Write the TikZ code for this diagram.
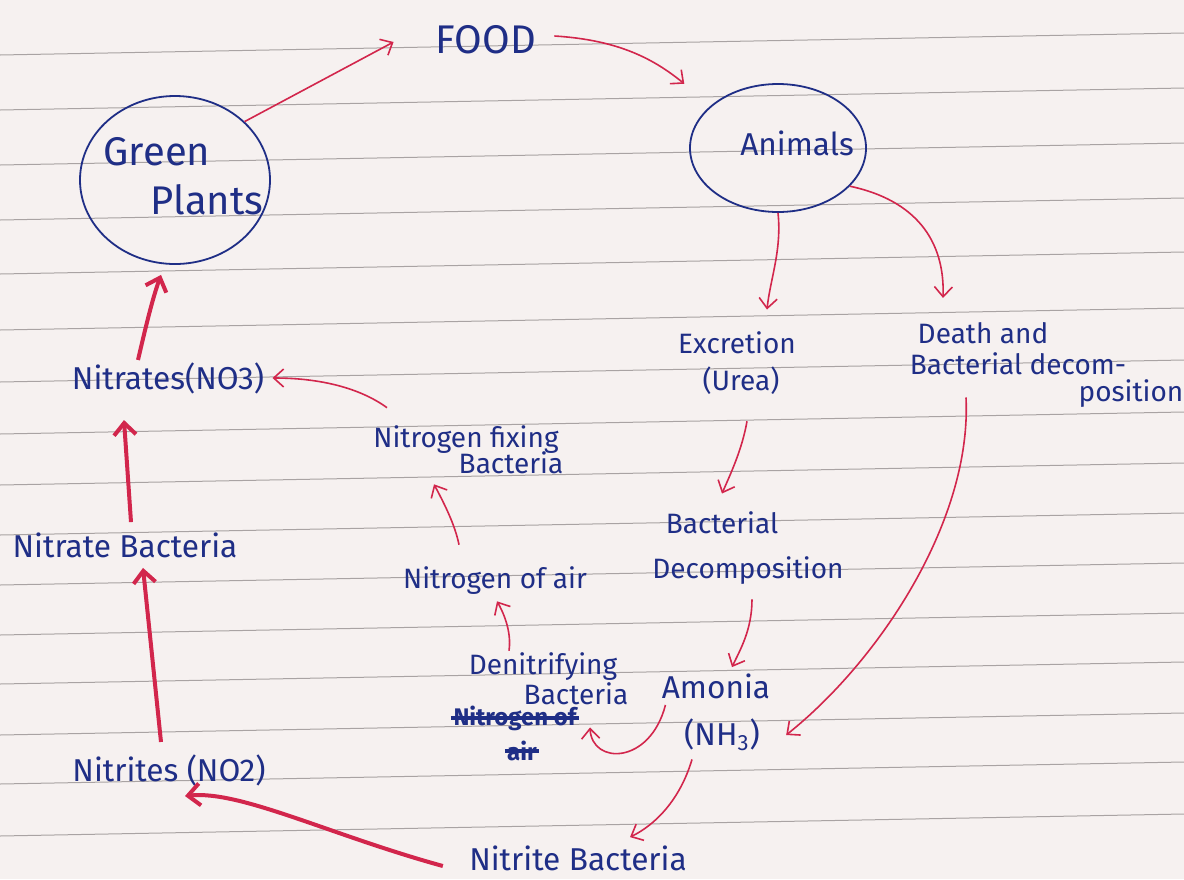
\documentclass[tikz,border=0pt]{standalone}
\usepackage{fontspec}
\setmainfont{Fira Sans}
\usetikzlibrary{arrows.meta,shapes.geometric,calc}
\definecolor{ink}{HTML}{1F2E86}
\definecolor{rink}{HTML}{D2264C}
\definecolor{paper}{HTML}{F6F1F0}
\definecolor{ruled}{HTML}{A9A3A3}
\begin{document}
\begin{tikzpicture}[x=0.5pt,y=-0.5pt,
  txt/.style={text=ink, inner sep=1pt, font=\fontsize{14}{17}\selectfont},
  ltxt/.style={text=ink, inner sep=1pt, font=\fontsize{15.8}{19}\selectfont},
  bigtxt/.style={text=ink, inner sep=1pt, font=\fontsize{20}{24}\selectfont},
  smalltxt/.style={text=ink, inner sep=1pt, font=\fontsize{12}{14}\selectfont\bfseries},
  blob/.style={draw=ink, line width=0.9pt, ellipse, inner sep=0pt},
  arr/.style={draw=rink, line width=0.8pt, -{Straight Barb[length=5pt,width=9pt]}},
  barr/.style={draw=rink, line width=2pt, -{Straight Barb[length=6pt,width=11pt]}},
  ruleline/.style={draw=ruled, line width=0.5pt},
  scratch/.style={draw=ink, line width=1.6pt}
]
\useasboundingbox (0,0) rectangle (1184,879);
\fill[paper] (0,0) rectangle (1184,879);
\foreach \l in {55,110,165,220,274,330,382,434,485,535,585,635,684,735,784,836}
  \draw[ruleline] (0,\l) -- (1184,\l-22);

% nodes
\node[bigtxt] (food) at (486,40) {FOOD};
\node[blob, minimum width=95pt, minimum height=84pt] (gp) at (175,180) {};
\node[bigtxt] (gpt1) at (157,152) {Green};
\node[bigtxt] (gpt2) at (207,200) {Plants};
\node[blob, minimum width=88pt, minimum height=64pt] (an) at (778,148) {};
\node[ltxt] (ant) at (797,143) {Animals};
\node[txt] (exc1) at (737,343) {Excretion};
\node[txt] (exc) at (741,381) {(Urea)};
\node[txt] (death1) at (983,333) {Death and};
\node[txt] (death2) at (1018,364) {Bacterial decom-};
\node[txt] (death3) at (1131,394) {position};
\node[txt] (bd1) at (722,523) {Bacterial};
\node[txt] (bd2) at (748,571) {Decomposition};
\node[ltxt] (am1) at (716,686) {Amonia};
\node[ltxt] (am2) at (722,735) {(NH\textsubscript{3})};
\node[txt] (den1) at (543,667) {Denitrifying};
\node[txt] (den2) at (576,694) {Bacteria};
\node[smalltxt] (strk1) at (515,718) {Nitrogen of};
\node[smalltxt] (strk2) at (522,751) {air};
\draw[scratch] (strk1.west) -- (strk1.east);
\draw[scratch] (strk2.west) -- (strk2.east);
\node[txt] (noa) at (495,581) {Nitrogen of air};
\node[txt] (nfb1) at (466,440) {Nitrogen fixing};
\node[txt] (nfb2) at (511,463) {Bacteria};
\node[ltxt] (no3) at (168,378) {Nitrates(NO3)};
\node[ltxt] (nb) at (125,545) {Nitrate Bacteria};
\node[ltxt] (no2) at (169,770) {Nitrites (NO2)};
\node[ltxt] (nib) at (578,858) {Nitrite Bacteria};

% connectors
\draw[arr] (gp.40) -- ([xshift=-20pt,yshift=-1pt]food.west);
\draw[arr] ([xshift=8pt,yshift=2pt]food.east) .. controls (620,40) and (655,60) .. ([xshift=-12pt,yshift=12pt]an.150);
\draw[arr] (an.south) .. controls (782,250) and (770,280) .. ([xshift=15pt,yshift=10pt]exc1.north);
\draw[arr] (an.-28) .. controls (915,200) and (945,240) .. ([xshift=-20pt,yshift=11pt]death1.north);
\draw[arr] ([xshift=3pt,yshift=-12pt]exc.south) .. controls (742,450) and (730,475) .. ([yshift=8pt]bd1.north);
\draw[arr] ([xshift=2pt,yshift=-6pt]bd2.south) .. controls (752,630) and (740,650) .. ([xshift=8pt,yshift=2pt]am1.north);
\draw[arr] ([xshift=-26pt,yshift=-10pt]death2.south) .. controls (972,520) and (880,660) .. ([xshift=12pt]am2.east);
\draw[arr] ([xshift=3pt,yshift=-2pt]am1.south west) .. controls (650,765) and (592,765) .. ([xshift=7pt,yshift=-10pt]den2.south);
\draw[arr] ([xshift=-17pt]den1.north) .. controls (512,630) and (502,610) .. ([xshift=1pt,yshift=-2pt]noa.south);
\draw[arr] ([xshift=-18pt,yshift=10pt]noa.north) .. controls (455,525) and (445,505) .. ([xshift=-16pt,yshift=-14pt]nfb1.south);
\draw[arr] ([xshift=8pt,yshift=8pt]nfb1.north west) .. controls (360,388) and (320,378) .. ([xshift=3pt]no3.east);
\draw[barr] ([xshift=-15pt]no3.north) .. controls (145,330) and (152,300) .. ([xshift=-7pt,yshift=-5pt]gp.south);
\draw[barr] ([xshift=3pt,yshift=4pt]nb.north) -- ([xshift=-22pt,yshift=-12pt]no3.south);
\draw[barr] ([xshift=-4pt,yshift=5pt]no2.north) -- ([xshift=9pt,yshift=-4pt]nb.south);
\draw[arr] ([xshift=-15pt,yshift=-3pt]am2.south) .. controls (680,800) and (655,825) .. ([xshift=26pt,yshift=3pt]nib.north);
\draw[barr] ([xshift=-12pt,yshift=-4pt]nib.west) .. controls (330,835) and (240,790) .. ([xshift=8pt,yshift=-4pt]no2.south);
\end{tikzpicture}
\end{document}
